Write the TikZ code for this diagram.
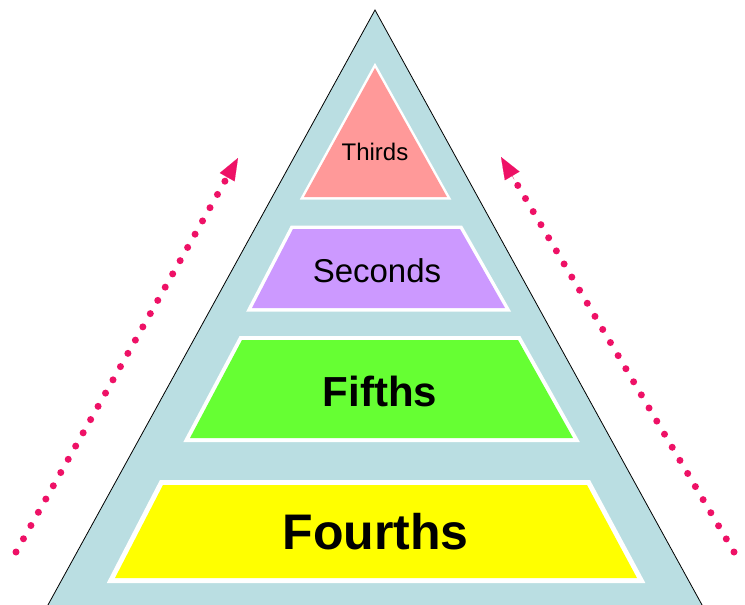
\documentclass[tikz,border=0pt]{standalone}
\usepackage{fontspec}
\setmainfont{Liberation Sans}
\usetikzlibrary{arrows.meta,calc}
\definecolor{pyrblue}{HTML}{BADEE2}
\definecolor{thirdsc}{HTML}{FF9999}
\definecolor{secondsc}{HTML}{CC99FF}
\definecolor{fifthsc}{HTML}{66FF33}
\definecolor{fourthsc}{HTML}{FFFF00}
\definecolor{dotred}{HTML}{EE1166}
\begin{document}
\begin{tikzpicture}[x=1pt,y=-1pt,
  rim/.style={draw=white, line width=#1, line join=miter},
  dotline/.style={draw=dotred, line width=7pt, line cap=round,
    dash pattern=on 0pt off 15.2pt},
  tiponly/.style={draw=dotred, fill=dotred, line width=0.1pt,
    -{Triangle[length=22pt,width=17pt]}},
  lbl/.style={anchor=base, text=black, inner sep=0pt}]
\useasboundingbox (0,0) rectangle (745,605);
\clip (0,0) rectangle (745,605);
\fill[white] (0,0) rectangle (745,605);
% big pyramid
\filldraw[fill=pyrblue, draw=black, line width=0.8pt]
  (39.7,620) -- (375,10) -- (710.3,620) -- cycle;
% Thirds
\draw[rim=5pt] (375,68) -- (447,197) -- (304,197) -- cycle;
\fill[thirdsc] (375,68) -- (447,197) -- (304,197) -- cycle;
% Seconds
\draw[rim=7pt] (293,229) -- (460,229) -- (505,308) -- (252,308) -- cycle;
\fill[secondsc] (293,229) -- (460,229) -- (505,308) -- (252,308) -- cycle;
% Fifths
\draw[rim=8pt] (242,340) -- (518,340) -- (573,438) -- (190,438) -- cycle;
\fill[fifthsc] (242,340) -- (518,340) -- (573,438) -- (190,438) -- cycle;
% Fourths
\draw[rim=10pt] (163,485) -- (587,485) -- (637,578) -- (115,578) -- cycle;
\fill[fourthsc] (163,485) -- (587,485) -- (637,578) -- (115,578) -- cycle;
% labels
\node[lbl, font=\fontsize{24}{28}\selectfont] (thirds) at (375,160) {Thirds};
\node[lbl, font=\fontsize{33}{38}\selectfont] (seconds) at (377,282) {Seconds};
\node[lbl, font=\fontsize{42}{48}\selectfont\bfseries] (fifths) at (380,406) {Fifths};
\node[lbl, font=\fontsize{50}{56}\selectfont\bfseries] (fourths) at (375.5,549) {Fourths};
% arrows
\coordinate (ls) at (16,552);
\coordinate (lt) at (238,158);
\coordinate (rs) at (734,552);
\coordinate (rt) at (501,157);
\coordinate (lb) at ($(lt)!26pt!(ls)$);
\coordinate (rb) at ($(rt)!26pt!(rs)$);
\draw[dotline] (ls) -- (lb);
\draw[tiponly] (lb) -- (lt);
\draw[dotline] (rs) -- (rb);
\draw[tiponly] (rb) -- (rt);
\end{tikzpicture}
\end{document}
